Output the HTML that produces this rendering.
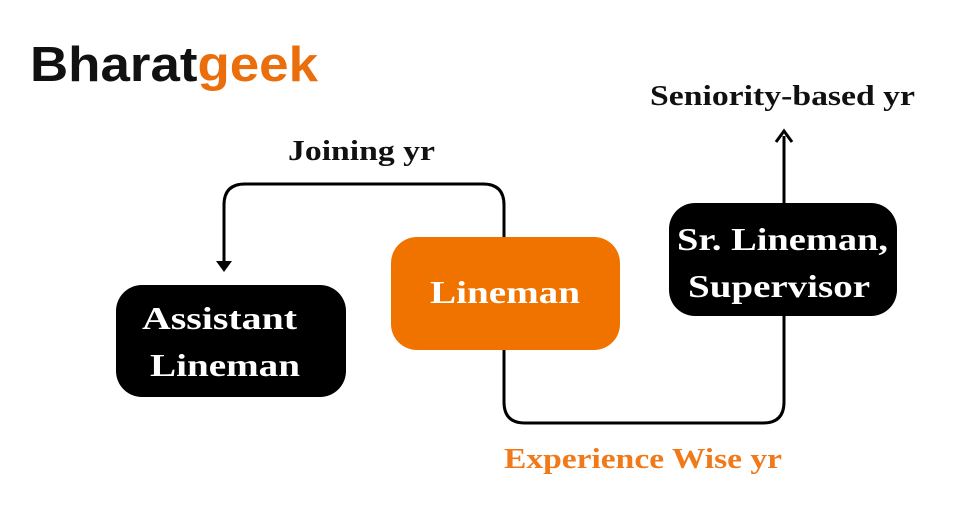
<!DOCTYPE html>
<html><head><meta charset="utf-8"><style>
html,body{margin:0;padding:0;background:#fff;}
svg{display:block;}
.s{font-family:"Liberation Serif",serif;font-weight:bold;}
</style></head><body>
<svg width="957" height="510" viewBox="0 0 957 510" xmlns="http://www.w3.org/2000/svg">
<rect width="957" height="510" fill="#fff"/>
<text x="30" y="81" font-family="Liberation Sans, sans-serif" font-weight="bold" font-size="49" textLength="288" lengthAdjust="spacingAndGlyphs" fill="#111">Bharat<tspan fill="#ea6e0c">geek</tspan></text>
<text x="288" y="160" class="s" font-size="28" textLength="147" lengthAdjust="spacingAndGlyphs" fill="#111">Joining yr</text>
<text x="650" y="105" class="s" font-size="28" textLength="265" lengthAdjust="spacingAndGlyphs" fill="#111">Seniority-based yr</text>
<text x="504" y="468" class="s" font-size="28" textLength="278" lengthAdjust="spacingAndGlyphs" fill="#f07a1a">Experience Wise yr</text>
<g fill="none" stroke="#000" stroke-width="3">
<path d="M504 240 V205 Q504 184 483 184 H245 Q224 184 224 205 V262"/>
<path d="M504 350 V402 Q504 423 525 423 H763 Q784 423 784 402 V316"/>
<path d="M784 204 V136"/>
</g>
<path d="M216 261 L232 261 L224 272 Z" fill="#000"/>
<path d="M776 142 L784 131 L792 142" fill="none" stroke="#000" stroke-width="3"/>
<rect x="116" y="285" width="230" height="112" rx="26" fill="#000"/>
<rect x="391" y="237" width="229" height="113" rx="26" fill="#f07300"/>
<rect x="669" y="203" width="228" height="113" rx="26" fill="#000"/>
<g class="s" font-size="32" fill="#fff" lengthAdjust="spacingAndGlyphs">
<text x="142" y="329" textLength="155" lengthAdjust="spacingAndGlyphs">Assistant</text>
<text x="150" y="376" textLength="150" lengthAdjust="spacingAndGlyphs">Lineman</text>
<text x="430" y="303" textLength="150" lengthAdjust="spacingAndGlyphs">Lineman</text>
<text x="677" y="250" textLength="211" lengthAdjust="spacingAndGlyphs">Sr. Lineman,</text>
<text x="688" y="297" textLength="182" lengthAdjust="spacingAndGlyphs">Supervisor</text>
</g>
</svg>
</body></html>
